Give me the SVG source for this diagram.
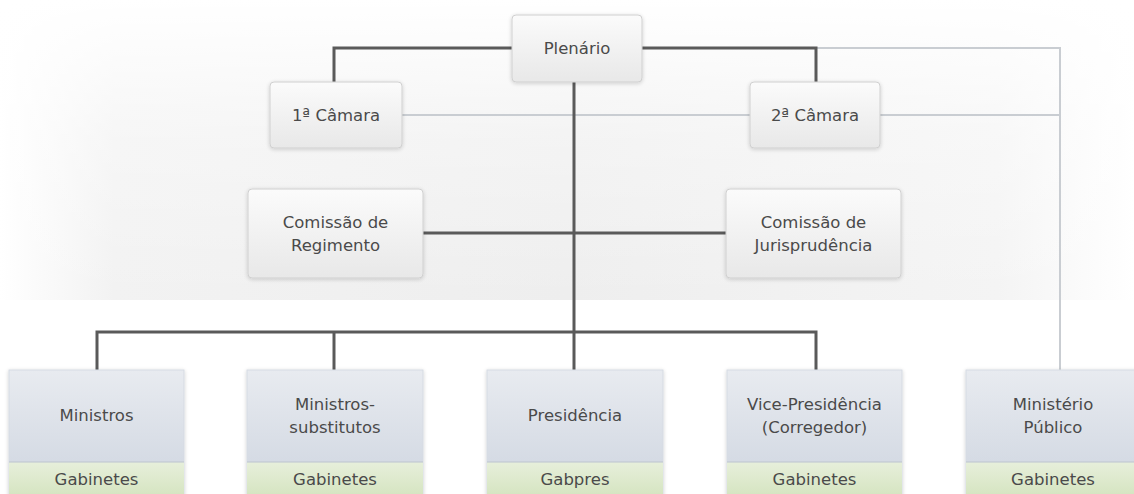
<svg xmlns="http://www.w3.org/2000/svg" width="1134" height="494" viewBox="0 0 1134 494">
  <defs>
    <linearGradient id="bgH" x1="0" y1="0" x2="1" y2="0">
      <stop offset="0" stop-color="#ffffff"/>
      <stop offset="0.1" stop-color="#f2f2f2"/>
      <stop offset="0.5" stop-color="#eeeeee"/>
      <stop offset="0.88" stop-color="#f4f4f4"/>
      <stop offset="1" stop-color="#ffffff"/>
    </linearGradient>
    <linearGradient id="bgV" x1="0" y1="0" x2="0" y2="1">
      <stop offset="0" stop-color="#ffffff" stop-opacity="1"/>
      <stop offset="0.45" stop-color="#ffffff" stop-opacity="0.35"/>
      <stop offset="1" stop-color="#ffffff" stop-opacity="0"/>
    </linearGradient>
    <linearGradient id="boxFill" x1="0" y1="0" x2="0" y2="1">
      <stop offset="0" stop-color="#fbfbfb"/>
      <stop offset="1" stop-color="#e8e8e8"/>
    </linearGradient>
    <linearGradient id="unitFill" x1="0" y1="0" x2="0" y2="1">
      <stop offset="0" stop-color="#e8ebf0"/>
      <stop offset="1" stop-color="#cdd4df"/>
    </linearGradient>
    <linearGradient id="bandFill" x1="0" y1="0" x2="0" y2="1">
      <stop offset="0" stop-color="#e7efdb"/>
      <stop offset="1" stop-color="#d6e5c2"/>
    </linearGradient>
    <filter id="soft" x="-10%" y="-10%" width="120%" height="130%">
      <feGaussianBlur in="SourceAlpha" stdDeviation="2"/>
      <feOffset dy="1"/>
      <feComponentTransfer><feFuncA type="linear" slope="0.18"/></feComponentTransfer>
      <feMerge><feMergeNode/><feMergeNode in="SourceGraphic"/></feMerge>
    </filter>
  </defs>
  <style>
    .box { fill: url(#boxFill); stroke: #d0d0d0; stroke-width: 1; filter: url(#soft); }
    .unit { fill: url(#unitFill); stroke: #d6dbe3; stroke-width: 1; filter: url(#soft); }
    .band { fill: url(#bandFill); }
    .sep { stroke: #bcc4cf; stroke-width: 1; }
    .lbl { font-family: "DejaVu Sans", "Liberation Sans", sans-serif; font-size: 16.5px; fill: #4a4a4a; text-anchor: middle; }
    .dark { fill: none; stroke: #5a5a5a; stroke-width: 3; }
    .light { fill: none; stroke: #c9cdd2; stroke-width: 2; }
  </style>

  <!-- backdrop -->
  <rect x="0" y="0" width="1134" height="494" fill="#ffffff"/>
  <rect x="0" y="0" width="1134" height="300" fill="url(#bgH)"/>
  <rect x="0" y="0" width="1134" height="300" fill="url(#bgV)"/>

  <!-- connectors -->
  <g id="connectors">
    <polyline class="light" points="816,48 1060,48 1060,370"/>
    <line class="light" x1="402" y1="115" x2="750" y2="115"/>
    <line class="light" x1="880" y1="115" x2="1060" y2="115"/>
    <polyline class="dark" points="512,48 334,48 334,82"/>
    <polyline class="dark" points="642,48 816,48 816,82"/>
    <line class="dark" x1="574" y1="82" x2="574" y2="370"/>
    <line class="dark" x1="423" y1="233" x2="726" y2="233"/>
    <polyline class="dark" points="97,370 97,332 816,332 816,370"/>
    <line class="dark" x1="334" y1="332" x2="334" y2="370"/>
  </g>

  <!-- upper bodies -->
  <g id="plenario">
    <rect class="box" x="512" y="15" width="130" height="67" rx="4"/>
    <text class="lbl" x="577" y="54">Plenário</text>
  </g>
  <g id="camara1">
    <rect class="box" x="270" y="82" width="132" height="66" rx="4"/>
    <text class="lbl" x="336" y="121">1ª Câmara</text>
  </g>
  <g id="camara2">
    <rect class="box" x="750" y="82" width="130" height="66" rx="4"/>
    <text class="lbl" x="815" y="121">2ª Câmara</text>
  </g>
  <g id="comissao-regimento">
    <rect class="box" x="248" y="189" width="175" height="89" rx="4"/>
    <text class="lbl" x="335.5" y="228">Comissão de</text>
    <text class="lbl" x="335.5" y="251">Regimento</text>
  </g>
  <g id="comissao-jurisprudencia">
    <rect class="box" x="726" y="189" width="175" height="89" rx="4"/>
    <text class="lbl" x="813.5" y="228">Comissão de</text>
    <text class="lbl" x="813.5" y="251">Jurisprudência</text>
  </g>

  <!-- lower units with their offices -->
  <g id="ministros">
    <rect class="unit" x="9" y="370" width="175" height="130"/>
    <rect class="band" x="9" y="462" width="175" height="32"/>
    <line class="sep" x1="9" y1="462" x2="184" y2="462"/>
    <text class="lbl" x="96.5" y="421">Ministros</text>
    <text class="lbl" x="96.5" y="485">Gabinetes</text>
  </g>
  <g id="ministros-substitutos">
    <rect class="unit" x="247" y="370" width="176" height="130"/>
    <rect class="band" x="247" y="462" width="176" height="32"/>
    <line class="sep" x1="247" y1="462" x2="423" y2="462"/>
    <text class="lbl" x="335" y="410">Ministros-</text>
    <text class="lbl" x="335" y="433">substitutos</text>
    <text class="lbl" x="335" y="485">Gabinetes</text>
  </g>
  <g id="presidencia">
    <rect class="unit" x="487" y="370" width="176" height="130"/>
    <rect class="band" x="487" y="462" width="176" height="32"/>
    <line class="sep" x1="487" y1="462" x2="663" y2="462"/>
    <text class="lbl" x="575" y="421">Presidência</text>
    <text class="lbl" x="575" y="485">Gabpres</text>
  </g>
  <g id="vice-presidencia">
    <rect class="unit" x="727" y="370" width="175" height="130"/>
    <rect class="band" x="727" y="462" width="175" height="32"/>
    <line class="sep" x1="727" y1="462" x2="902" y2="462"/>
    <text class="lbl" x="814.5" y="410">Vice-Presidência</text>
    <text class="lbl" x="814.5" y="433">(Corregedor)</text>
    <text class="lbl" x="814.5" y="485">Gabinetes</text>
  </g>
  <g id="ministerio-publico">
    <rect class="unit" x="966" y="370" width="175" height="130"/>
    <rect class="band" x="966" y="462" width="175" height="32"/>
    <line class="sep" x1="966" y1="462" x2="1141" y2="462"/>
    <text class="lbl" x="1053" y="410">Ministério</text>
    <text class="lbl" x="1053" y="433">Público</text>
    <text class="lbl" x="1053" y="485">Gabinetes</text>
  </g>
</svg>
